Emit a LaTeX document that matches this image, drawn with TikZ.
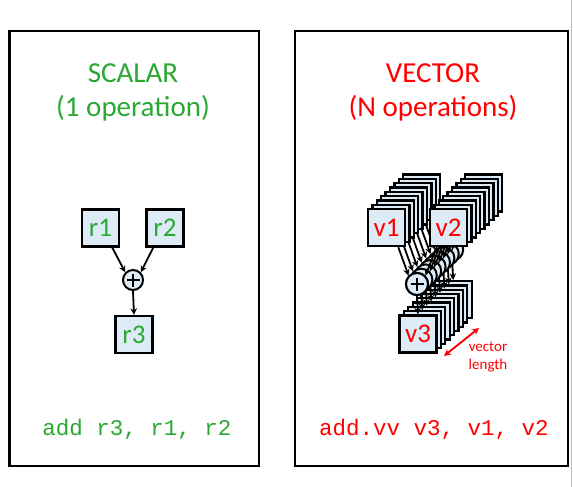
\documentclass[tikz,border=0pt]{standalone}
\usepackage{fontspec}
\setmainfont{Carlito}
\setmonofont{Liberation Mono}
\usetikzlibrary{arrows.meta,calc}
\definecolor{sgreen}{HTML}{29A832}
\definecolor{vred}{HTML}{FF0000}
\definecolor{boxfill}{HTML}{DDEBF7}
\begin{document}
\begin{tikzpicture}[x=1pt,y=-1pt,
  panel/.style={draw=black,line width=2.5pt,inner sep=0pt},
  regbox/.style={draw=black,line width=2.3pt,fill=boxfill,minimum size=37pt,inner sep=0pt,font=\fontsize{27}{27}\selectfont},
  opc/.style={circle,draw=black,line width=2pt,fill=boxfill,inner sep=0pt},
  plussign/.style={path picture={\draw[line width=1.8pt]
     ([xshift=-6.5pt]path picture bounding box.center) -- ([xshift=6.5pt]path picture bounding box.center)
     ([yshift=-6.5pt]path picture bounding box.center) -- ([yshift=6.5pt]path picture bounding box.center);}},
  arr/.style={-{Stealth[length=6.5pt,width=6.5pt]},line width=1.8pt},
  title/.style={font=\fontsize{29}{33}\selectfont,anchor=base},
  code/.style={font=\ttfamily\fontsize{22.5}{22.5}\selectfont,anchor=base}]
\useasboundingbox (0,0) rectangle (573,487);
\draw[black!25,line width=1pt] (571,0) -- (571,487);
% panels
\node[panel,minimum width=249.5pt,minimum height=435pt] (lp) at (134.25,248.5) {};
\node[panel,minimum width=273pt,minimum height=435pt] (rp) at (431.5,248.5) {};
% titles
\node[title,text=sgreen] (st1) at (133,83) {SCALAR};
\node[title,text=sgreen] (st2) at (133,116) {(1 operation)};
\node[title,text=vred] (vt1) at (433,83) {VECTOR};
\node[title,text=vred] (vt2) at (433,116) {(N operations)};
% scalar
\node[regbox,text=sgreen] (r1) at (100.5,228) {r1};
\node[regbox,text=sgreen] (r2) at (165,228) {r2};
\node[opc,plussign,minimum size=20pt] (plus) at (133,280) {};
\node[regbox,text=sgreen] (r3) at (134,334.5) {r3};
\draw[arr] ($(r1.south)!0.6!(r1.south east)$) -- (plus.north west);
\draw[arr] ($(r2.south)!0.6!(r2.south west)$) -- (plus.north east);
\draw[arr] (plus.south) -- (r3.north);
% vector
\foreach \k in {8,7,...,0}{
  \node[regbox] (v1-\k) at ({386.5+4.4*\k},{227.5-4.3*\k}) {};
  \node[regbox] (v2-\k) at ({448.5+4.4*\k},{227.5-4.3*\k}) {};
  \node[opc,minimum size=22pt] (c-\k) at ({417+4.4*\k},{284-4.3*\k}) {};
  \draw[arr] ($(v1-\k.south)!0.6!(v1-\k.south east)$) -- (c-\k.north west);
  \draw[arr] ($(v2-\k.south)!0.6!(v2-\k.south west)$) -- (c-\k.north east);
  \node[regbox] (v3-\k) at ({418+4.4*\k},{334-4.3*\k}) {};
  \draw[arr] (c-\k.south) -- (v3-\k.north);
}
\node[regbox,text=vred] at (v1-0) {v1};
\node[regbox,text=vred] at (v2-0) {v2};
\node[regbox,text=vred] at (v3-0) {v3};
\node[opc,plussign,minimum size=22pt] at (c-0) {};
% vector length
\coordinate (vl1) at (444,356);
\coordinate (vl2) at (479,328);
\draw[vred,line width=1.9pt,{Stealth[length=7pt,width=7pt]}-{Stealth[length=7pt,width=7pt]}] (vl1) -- (vl2);
\node[text=vred,font=\fontsize{15}{18}\selectfont,align=center] (vlt) at (488,357) {vector\\length};
% code
\node[code,text=sgreen] (sc) at (137,435) {add r3, r1, r2};
\node[code,text=vred] (vc) at (434,435) {add.vv v3, v1, v2};
\end{tikzpicture}
\end{document}
